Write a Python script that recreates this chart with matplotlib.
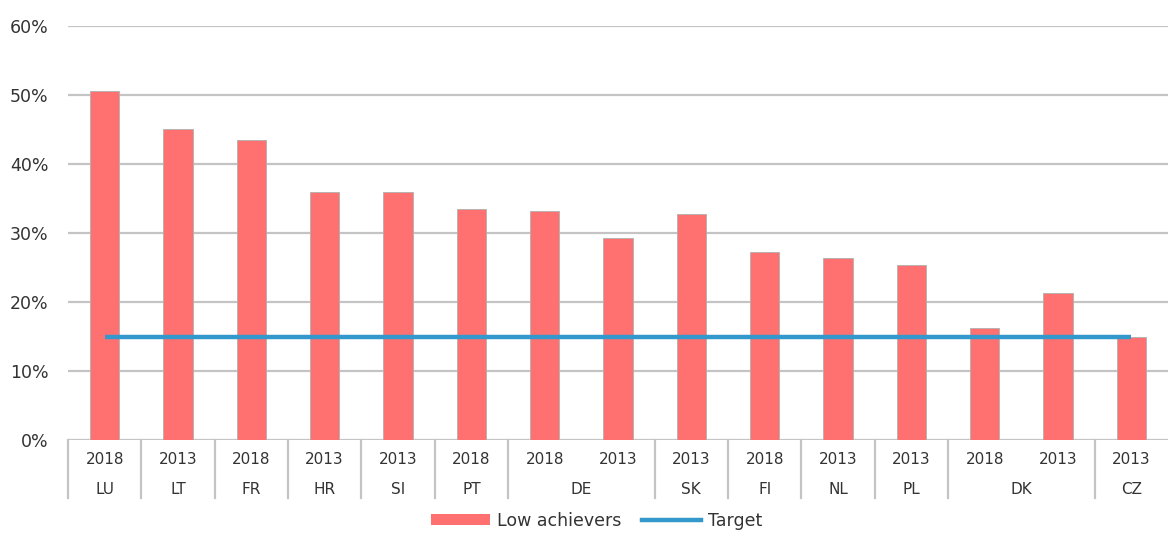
import matplotlib
matplotlib.use("Agg")
import matplotlib.pyplot as plt
from matplotlib.lines import Line2D
from matplotlib.patches import Patch
import matplotlib.transforms as mtransforms

years = ["2018", "2013", "2018", "2013", "2013", "2018", "2018", "2013",
         "2013", "2018", "2013", "2013", "2018", "2013", "2013"]
countries = ["LU", "LT", "FR", "HR", "SI", "PT", "DE", "DE",
             "SK", "FI", "NL", "PL", "DK", "DK", "CZ"]
low_achievers = [50.6, 45.1, 43.5, 35.9, 35.9, 33.5, 33.2, 29.3,
                 32.8, 27.2, 26.4, 25.3, 16.2, 21.3, 14.9]
target = 15.0
yticks = [0, 10, 20, 30, 40, 50, 60]

BAR = "#FF7070"
LINE = "#3399CC"
GRID = "#C4C4C4"
TXT = "#333333"

plt.rcParams["font.family"] = ["DejaVu Sans"]

W, H = 1170, 535
fig = plt.figure(figsize=(W / 100, H / 100), dpi=100)
x0, x1, ytop, ybot = 68, 1168, 26, 440
ax = fig.add_axes([x0 / W, (H - ybot) / H, (x1 - x0) / W, (ybot - ytop) / H])

n = len(low_achievers)
xs = list(range(n))
ax.bar(xs, low_achievers, width=0.4, color=BAR, edgecolor="#B0B0B0",
       linewidth=0.6, zorder=3, label="Low achievers")
ax.plot([xs[0], xs[-1]], [target, target], color=LINE, linewidth=3.2,
        solid_capstyle="butt", zorder=4, label="Target")

ax.set_xlim(-0.5, n - 0.5)
ax.set_ylim(0, 60)
ax.set_yticks(yticks)
ax.set_yticklabels([f"{v}%" for v in yticks], fontsize=12.5, color=TXT)
ax.tick_params(axis="y", length=0, pad=14)
ax.set_xticks([])
for v in yticks:
    ax.axhline(v, color=GRID, linewidth=1.6, zorder=1)
for s in ax.spines.values():
    s.set_visible(False)

# two-level category axis: year row and country row with group separators
trans = mtransforms.blended_transform_factory(ax.transData, ax.transAxes)
hpx = ybot - ytop
y_year = -(460 - ybot) / hpx
y_ctry = -(490 - ybot) / hpx
y_sep = -(498 - ybot) / hpx
for i, yr in enumerate(years):
    ax.text(i, y_year, yr, transform=trans, ha="center", va="center",
            fontsize=11, color=TXT)

groups = []
start = 0
for i in range(1, n + 1):
    if i == n or countries[i] != countries[start]:
        groups.append((start, i - 1, countries[start]))
        start = i
for a, b, name in groups:
    ax.text((a + b) / 2, y_ctry, name, transform=trans, ha="center",
            va="center", fontsize=11, color=TXT)
for a, b, name in groups:
    ax.plot([a - 0.5, a - 0.5], [0, y_sep], transform=trans, color=GRID,
            linewidth=1.6, clip_on=False)

handles = [Patch(facecolor=BAR, edgecolor="none", label="Low achievers"),
           Line2D([0], [0], color=LINE, linewidth=3.2, label="Target")]
fig.legend(handles=handles, loc="center", bbox_to_anchor=(0.51, 0.026),
           ncol=2, frameon=False, fontsize=12.5, handlelength=3.4,
           handleheight=0.6, columnspacing=1.2, handletextpad=0.4,
           labelcolor=TXT, borderpad=0.1)

fig.savefig("out.png", dpi=100)
